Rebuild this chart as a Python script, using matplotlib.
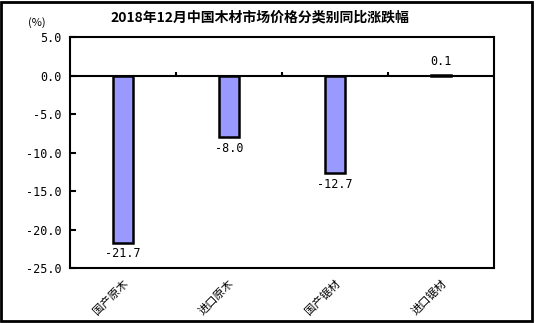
import matplotlib
matplotlib.use("Agg")
import matplotlib.pyplot as plt
from matplotlib.patches import Rectangle
import numpy as np

plt.rcParams['font.family'] = ['Noto Sans CJK SC', 'DejaVu Sans']

title = "2018年12月中国木材市场价格分类别同比涨跌幅"
categories = ["国产原木", "进口原木", "国产锯材", "进口锯材"]
values = [-21.7, -8.0, -12.7, 0.1]
value_labels = ["-21.7", "-8.0", "-12.7", "0.1"]
yticks = [5.0, 0.0, -5.0, -10.0, -15.0, -20.0, -25.0]

fig = plt.figure(figsize=(5.36, 3.23), dpi=100)
ax = fig.add_axes([0.1306, 0.1703, 0.791, 0.715])

x = np.arange(len(categories))
ax.bar(x, values, width=0.18, color="#9999FF", edgecolor="black", linewidth=1.8, zorder=3)

ax.set_xlim(-0.5, len(categories) - 0.5)
ax.set_ylim(-25, 5)
ax.axhline(0, color="black", linewidth=1.5, zorder=4)
# category boundary ticks on the zero line
bounds = np.arange(0.5, len(categories) - 0.5, 1.0)
ax.vlines(bounds, 0, 0.45, color="black", linewidth=1.5, zorder=4)

for xi, v, lab in zip(x, values, value_labels):
    if v < 0:
        ax.text(xi, v - 0.6, lab, ha="center", va="top", fontsize=8.5, family=["DejaVu Sans Mono"])
    else:
        ax.text(xi, v + 0.9, lab, ha="center", va="bottom", fontsize=8.5, family=["DejaVu Sans Mono"])

ax.set_yticks(yticks)
ax.set_yticklabels([f"{t:.1f}" for t in yticks], family=["DejaVu Sans Mono"], fontsize=8.5)
ax.tick_params(axis="y", direction="in", length=4, width=1.5, pad=6)
ax.set_xticks(x)
ax.set_xticklabels(categories, rotation=45, ha="right", va="top", fontsize=8,
                   rotation_mode="anchor")
ax.tick_params(axis="x", length=0, pad=7)
for s in ax.spines.values():
    s.set_linewidth(1.5)

fig.text(0.485, 0.945, title, ha="center", va="center", fontsize=10, fontweight="bold")
fig.text(0.068, 0.93, "(%)", ha="center", va="center", fontsize=8)

fig.patches.append(Rectangle((0.002, 0.005), 0.991, 0.99, transform=fig.transFigure,
                             fill=False, edgecolor="black", linewidth=2))

fig.savefig("out.png", dpi=100)
